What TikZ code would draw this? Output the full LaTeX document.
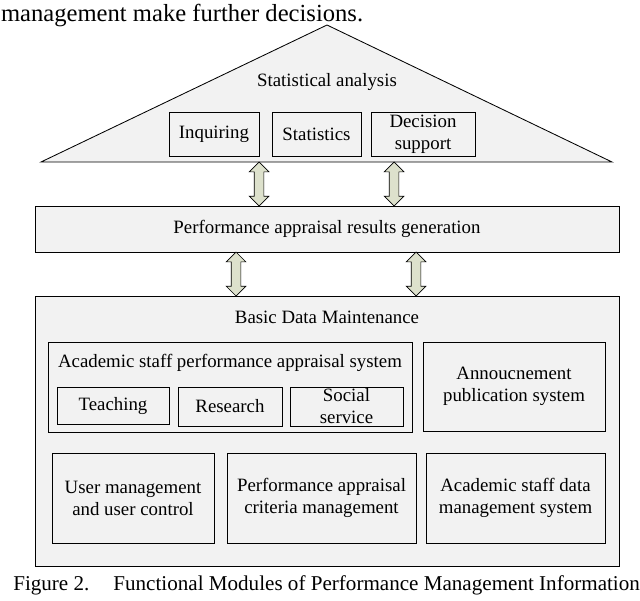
\documentclass[tikz,border=0pt]{standalone}
\usepackage{fontspec}
\setmainfont{Liberation Serif}
\usetikzlibrary{
  calc,
  positioning,
  shapes.arrows,
}
\definecolor{boxgray}{RGB}{242,242,242}
\definecolor{arrowgreen}{RGB}{221,225,204}
\newcommand{\boxfont}{\fontsize{13.4}{15.6}\selectfont}
\tikzset{
  box/.style={draw, fill=boxgray, line width=0.6pt, inner sep=0pt, align=center, font=\boxfont},
  label/.style={align=center, font=\boxfont},
  dblarrow/.style={double arrow, draw, fill=arrowgreen, line width=0.5pt, rotate=90,
    minimum height=1.1cm, minimum width=0.475cm, inner xsep=0pt, inner ysep=0.1125cm,
    double arrow head extend=0.125cm},
}

\begin{document}
\begin{tikzpicture}
      \useasboundingbox (0, 0) rectangle (16, 15);

      % text of the page above the figure
      \node [anchor=base west, inner sep=0pt, font=\fontsize{17.5}{21}\selectfont] (lead) at (0.02, 14.47) {management make further decisions.};

      % statistical analysis roof
      \coordinate (apex) at (8.175, 14.375);
      \coordinate (bl) at (1.025, 10.95);
      \coordinate (br) at (15.3, 10.95);
      \draw [fill=boxgray, line width=0.6pt] (bl) -- (apex) -- (br) -- cycle;
      \node [label] (sa) at (8.175, 12.95) {Statistical analysis};
      \node [box, minimum width=2.25cm, minimum height=1.1cm] (inq) at (5.35, 11.65) {Inquiring};
      \node [box, minimum width=2.225cm, minimum height=1.1cm] (stat) at (7.9125, 11.65) {Statistics};
      \node [box, minimum width=2.6cm, minimum height=1.1cm] (dec) at (10.575, 11.65) {Decision\\support};

      % results generation
      \node [box, minimum width=14.6cm, minimum height=1.15cm] (pag) at (8.175, 9.275) {Performance appraisal results generation};
      \node [dblarrow] (up1) at (6.475, 10.4) {};
      \node [dblarrow] (up2) at (9.85, 10.4) {};

      % basic data maintenance
      \node [box, minimum width=14.6cm, minimum height=6.75cm] (bdm) at (8.175, 4.225) {};
      \node [label] (bdmt) at (8.175, 7.075) {Basic Data Maintenance};
      \node [dblarrow] (lo1) at (5.9, 8.15) {};
      \node [dblarrow] (lo2) at (10.4, 8.15) {};

      \node [box, minimum width=9.1cm, minimum height=2.25cm] (asp) at (5.75, 5.325) {};
      \node [label] (aspt) at (5.75, 5.925) {Academic staff performance appraisal system};
      \node [box, minimum width=2.8cm, minimum height=0.925cm] (teach) at (2.825, 4.8625) {Teaching};
      \node [box, minimum width=2.6cm, minimum height=0.975cm] (res) at (5.75, 4.8375) {Research};
      \node [box, minimum width=2.825cm, minimum height=0.975cm] (soc) at (8.6625, 4.8375) {Social\\service};
      \node [box, minimum width=4.55cm, minimum height=2.225cm] (ann) at (12.85, 5.3375) {Annoucnement\\publication system};

      \node [box, minimum width=4.05cm, minimum height=2.25cm] (user) at (3.325, 2.55) {User management\\and user control};
      \node [box, minimum width=4.725cm, minimum height=2.25cm] (crit) at (8.0375, 2.55) {Performance appraisal\\criteria management};
      \node [box, minimum width=4.475cm, minimum height=2.25cm] (asd) at (12.8875, 2.55) {Academic staff data\\management system};

      % caption
      \node [anchor=base west, inner sep=0pt, font=\fontsize{15}{18}\selectfont] (cap) at (0.325, 0.25) {Figure 2.\hspace{0.6cm}Functional Modules of Performance Management Information};
    \end{tikzpicture}
\end{document}
